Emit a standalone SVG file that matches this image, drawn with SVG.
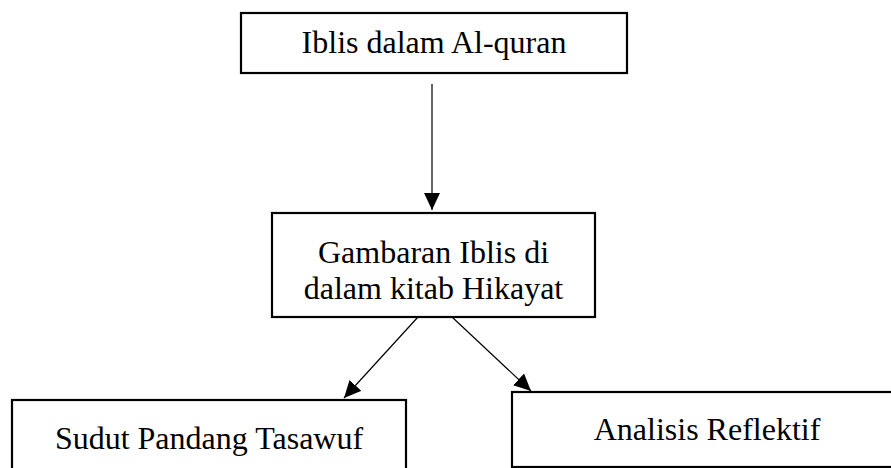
<svg xmlns="http://www.w3.org/2000/svg" width="891" height="468" viewBox="0 0 891 468">
<style>
.box{fill:#fff;stroke:#000;stroke-width:2.2}
.lbl{font-family:"Liberation Serif","Times New Roman",serif;font-size:32px;fill:#000;text-anchor:middle}
.edge{stroke:#000;stroke-width:1.2;fill:none;marker-end:url(#ah)}
</style>
<defs>
<marker id="ah" markerUnits="userSpaceOnUse" markerWidth="18" markerHeight="16" viewBox="0 0 18 16" refX="17" refY="8" orient="auto">
<path d="M0,0 L17,8 L0,16 Z" fill="#000"/>
</marker>
</defs>
<rect width="891" height="468" fill="#fff"/>
<g id="connectors">
<line class="edge" x1="432" y1="84" x2="432" y2="210"/>
<line class="edge" x1="418" y1="317" x2="344" y2="398"/>
<line class="edge" x1="452" y1="317" x2="531" y2="391"/>
</g>
<g id="n1">
<rect class="box" x="241" y="13" width="386" height="60"/>
<text class="lbl" x="434" y="53">Iblis dalam Al-quran</text>
</g>
<g id="n2">
<rect class="box" x="272" y="213" width="323" height="104"/>
<text class="lbl" x="433.5" y="263">Gambaran Iblis di</text>
<text class="lbl" x="433.5" y="299">dalam kitab Hikayat</text>
</g>
<g id="n3">
<rect class="box" x="12" y="400" width="394" height="80"/>
<text class="lbl" x="209" y="449">Sudut Pandang Tasawuf</text>
</g>
<g id="n4">
<rect class="box" x="512" y="392" width="392" height="75"/>
<text class="lbl" x="707" y="440">Analisis Reflektif</text>
</g>
</svg>
